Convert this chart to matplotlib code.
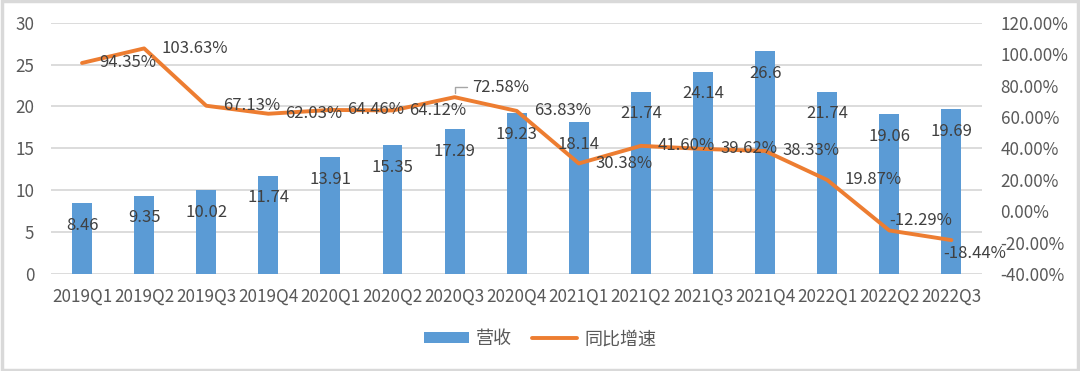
import matplotlib
matplotlib.use("Agg")
import matplotlib.pyplot as plt
from matplotlib.patches import Rectangle

plt.rcParams['font.family'] = ['Noto Sans CJK SC', 'DejaVu Sans']

quarters = ["2019Q1", "2019Q2", "2019Q3", "2019Q4", "2020Q1", "2020Q2", "2020Q3", "2020Q4",
            "2021Q1", "2021Q2", "2021Q3", "2021Q4", "2022Q1", "2022Q2", "2022Q3"]
revenue = [8.46, 9.35, 10.02, 11.74, 13.91, 15.35, 17.29, 19.23,
           18.14, 21.74, 24.14, 26.6, 21.74, 19.06, 19.69]
growth = [94.35, 103.63, 67.13, 62.03, 64.46, 64.12, 72.58, 63.83,
          30.38, 41.60, 39.62, 38.33, 19.87, -12.29, -18.44]

BLUE = "#5b9bd5"
ORANGE = "#ed7d31"
GRID = "#d9d9d9"
TICK = "#595959"
LABEL = "#404040"

fig = plt.figure(figsize=(10.8, 3.71), dpi=100)
ax = fig.add_axes([0.0472, 0.2615, 0.8625, 0.6773])
ax2 = ax.twinx()

x = list(range(len(quarters)))
ax.bar(x, revenue, width=0.32, color=BLUE, zorder=2, label="营收")
ax2.plot(x, growth, color=ORANGE, lw=2.8, solid_capstyle="round",
         solid_joinstyle="round", zorder=3, label="同比增速")

ax.set_xlim(-0.5, len(quarters) - 0.5)
ax.set_ylim(0, 30)
ax.set_yticks(range(0, 31, 5))
ax2.set_ylim(-40, 120)
ax2.set_yticks(range(-40, 121, 20))
ax2.set_yticklabels([f"{v:.2f}%" for v in range(-40, 121, 20)])
ax.set_xticks(x)
ax.set_xticklabels(quarters)

ax.grid(axis="y", color=GRID, lw=1.3, zorder=0)
ax.set_axisbelow(True)
for a in (ax, ax2):
    for s in a.spines.values():
        s.set_visible(False)
ax.tick_params(axis="x", length=0, pad=10, labelsize=12.3, colors=TICK)
ax.tick_params(axis="y", length=0, pad=12, labelsize=12.3, colors=TICK)
ax2.tick_params(axis="y", length=0, pad=13, labelsize=12.3, colors=TICK)

# bar value labels (inside end)
for i, v in enumerate(revenue):
    ax2.annotate(f"{v:g}", xy=(i, v), xycoords=ax.transData,
                 xytext=(0, -22), textcoords="offset pixels",
                 ha="center", va="center", fontsize=12, color=LABEL, zorder=5)

# growth labels, mostly to the right of the point
offsets = {6: (17, 10), 13: (0, 9.5), 14: (-8, -13)}
for i, v in enumerate(growth):
    dx, dy = offsets.get(i, (17, 0))
    kw = {}
    if i == 6:
        kw["arrowprops"] = dict(arrowstyle="-", color="#a6a6a6", lw=1,
                                connectionstyle="angle,angleA=0,angleB=90,rad=0",
                                shrinkA=1, shrinkB=3, relpos=(0, 0.5))
    ax2.annotate(f"{v:.2f}%", xy=(i, v), xytext=(dx, dy), textcoords="offset pixels",
                 ha="left", va="center", fontsize=12, color=LABEL, zorder=5, **kw)

h1, l1 = ax.get_legend_handles_labels()
h2, l2 = ax2.get_legend_handles_labels()
fig.legend(h1 + h2, l1 + l2, loc="center", bbox_to_anchor=(0.5, 0.086), ncol=2,
           frameon=False, fontsize=13, labelcolor=TICK, handlelength=2.5,
           handleheight=0.55, handletextpad=0.4, columnspacing=1.1)

fig.patches.append(Rectangle((0.0015, 0.003), 0.997, 0.994, transform=fig.transFigure,
                             fill=False, edgecolor=GRID, lw=2.5))

fig.savefig("out.png", dpi=100)
